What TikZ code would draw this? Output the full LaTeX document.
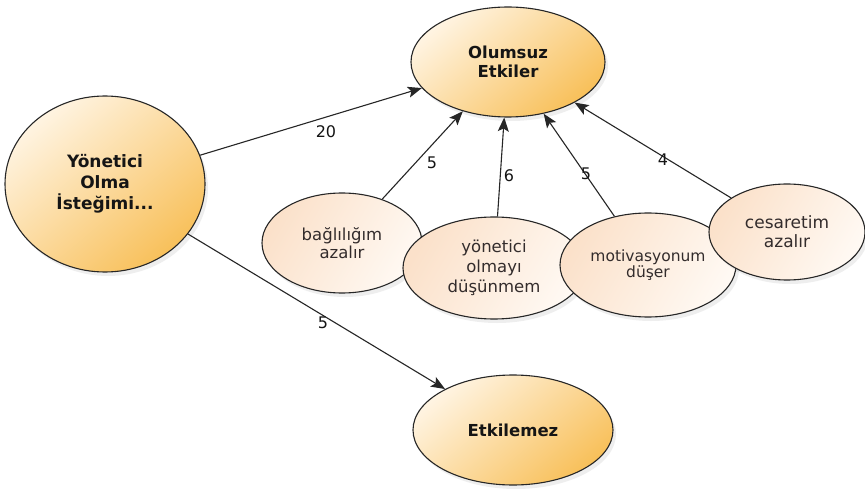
\documentclass[tikz,border=0pt]{standalone}
\usepackage{fontspec}
\setmainfont{DejaVu Sans}
\usetikzlibrary{shapes.geometric,arrows.meta,shadows}
\definecolor{bigA}{HTML}{FFF4E2}
\definecolor{bigB}{HTML}{F8C05A}
\definecolor{smA}{HTML}{FBE1CA}
\definecolor{smB}{HTML}{FFF9F3}
\definecolor{edgec}{HTML}{262626}
\definecolor{txt}{HTML}{151515}
\definecolor{smtxt}{HTML}{332C2C}
\begin{document}
\begin{tikzpicture}[x=1pt,y=-1pt,
  base/.style={ellipse, draw=edgec, line width=1.1pt, inner sep=0pt, align=center,
    drop shadow={opacity=0.13,shadow xshift=3pt,shadow yshift=-4pt}},
  bignode/.style={base, top color=bigA, bottom color=bigB, shading angle=40,
    font=\fontsize{16.5}{18.5}\selectfont\bfseries, text=txt},
  smnode/.style={base, top color=smA, bottom color=smB, shading angle=60,
    font=\fontsize{16.5}{18.5}\selectfont, text=smtxt},
  conn/.style={draw=edgec, line width=1.1pt, -{Stealth[length=14pt,width=11pt,inset=3pt]}},
  lbl/.style={font=\fontsize{16}{18}\selectfont, text=txt, inner sep=0pt}
]
\fill[white] (0,0) rectangle (865,489);
\useasboundingbox (0,0) rectangle (865,489);

\node[bignode, minimum width=194pt, minimum height=110pt] (olu) at (508,62) {Olumsuz\\Etkiler};
\node[bignode, minimum width=200pt, minimum height=176pt, font=\fontsize{17}{21}\selectfont\bfseries] (yon) at (105,184) {Yönetici\\Olma\\İsteğimi...};
\node[bignode, minimum width=200pt, minimum height=110pt] (etk) at (513,430) {Etkilemez};

\node[smnode, minimum width=160pt, minimum height=100pt] (bag) at (342,243) {bağlılığım\\azalır};
\node[smnode, minimum width=182pt, minimum height=102pt, font=\fontsize{16.5}{20}\selectfont] (yol) at (494,268) {yönetici\\olmayı\\düşünmem};
\node[smnode, minimum width=176pt, minimum height=104pt, font=\fontsize{15.5}{15}\selectfont] (mot) at (648,265) {motivasyonum\\düşer};
\node[smnode, minimum width=156pt, minimum height=96pt, font=\fontsize{17}{19}\selectfont] (ces) at (787,232) {cesaretim\\azalır};

\draw[conn] (yon) -- (olu);
\draw[conn] (bag) -- (olu);
\draw[conn] (yol) -- (olu);
\draw[conn] (mot) -- (olu);
\draw[conn] (ces) -- (olu);
\draw[conn] (yon) -- (etk);

\node[lbl] (l1) at (326,132) {20};
\node[lbl] (l2) at (432,163) {5};
\node[lbl] (l3) at (509,176) {6};
\node[lbl] (l4) at (586,174) {5};
\node[lbl] (l5) at (663,160) {4};
\node[lbl] (l6) at (323,323) {5};
\end{tikzpicture}
\end{document}
